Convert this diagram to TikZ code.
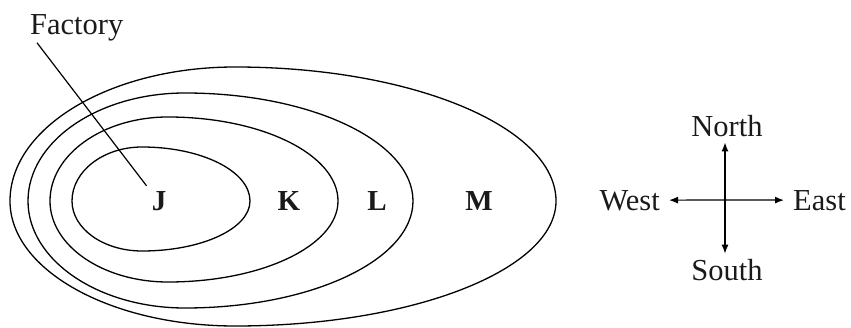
\documentclass[tikz,border=0pt]{standalone}
\usepackage{fontspec}
\setmainfont{Liberation Serif}
\usepackage{tikz}
\usetikzlibrary{arrows.meta, calc}
\usepackage{xcolor}
\definecolor{MapBlack}{HTML}{000000}
\definecolor{MapText}{HTML}{1A1A1A}
\tikzset{
    % Zone styles - egg shaped rings
    zone/.style={
        draw=MapBlack,
        line width=1.3pt
    },
    zonelabel/.style={
        font=\fontsize{29}{34}\selectfont\bfseries,
        text=MapText,
        inner sep=5pt,
        anchor=base
    },
    % Text styles
    maplabel/.style={
        font=\fontsize{30.5}{36}\selectfont,
        text=MapText,
        inner sep=3pt
    },
    compass/.style={
        font=\fontsize{30.5}{36}\selectfont,
        text=MapText,
        inner xsep=9pt,
        inner ysep=5pt
    },
    % Line styles
    pointer/.style={
        line width=1.2pt,
        draw=MapBlack
    },
    compassarrow/.style={
        -{Latex[length=9pt,width=7pt]},
        line width=1.2pt,
        draw=MapBlack
    }
}
\begin{document}
\begin{tikzpicture}[x=1pt, y=1pt]
    \useasboundingbox (0,0) rectangle (851,327);

    % rings J, K, L, M (centre x / right / left / top / bottom radii)
    \foreach \xc/\ar/\al/\bt/\bb in {142/108/70/54/50, 168/170/118/84/81,
                                     185/228/157/108/107, 235/321/225/134/125}
        \draw[zone] (\xc+\ar,126)
            arc[start angle=0, end angle=90, x radius=\ar pt, y radius=\bt pt]
            arc[start angle=90, end angle=180, x radius=\al pt, y radius=\bt pt]
            arc[start angle=180, end angle=270, x radius=\al pt, y radius=\bb pt]
            arc[start angle=270, end angle=360, x radius=\ar pt, y radius=\bb pt]
            -- cycle;

    \node[zonelabel] (J) at (159,117) {J};
    \node[zonelabel] (K) at (289,117) {K};
    \node[zonelabel] (L) at (377,117) {L};
    \node[zonelabel] (M) at (479,117) {M};

    \node[maplabel, anchor=base west] (factory) at (27,292) {Factory};
    \draw[pointer] ([xshift=10pt, yshift=2pt]factory.south west) -- (J.north west);

    % compass
    \coordinate (c) at (725,127);
    \node[compass, anchor=base] (north) at (727,190) {North};
    \node[compass, anchor=base] (south) at (727,47) {South};
    \node[compass, anchor=base east] (west) at (669,117) {West};
    \node[compass, anchor=base west] (east) at (784,117) {East};

    \draw[compassarrow] (c) -- (c |- north.south);
    \draw[compassarrow] (c) -- (c |- south.north);
    \draw[compassarrow] (c) -- (west);
    \draw[compassarrow] (c) -- (east);
\end{tikzpicture}
\end{document}
